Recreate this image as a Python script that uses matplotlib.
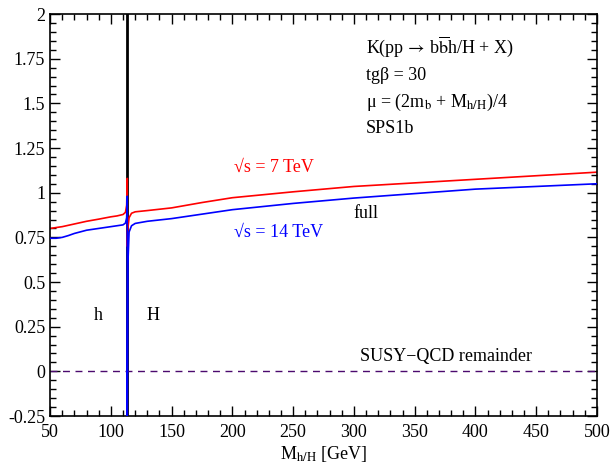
import matplotlib
matplotlib.use("Agg")
import matplotlib.pyplot as plt
from matplotlib.ticker import MultipleLocator

plt.rcParams['font.family'] = ['Liberation Serif', 'DejaVu Serif']
plt.rcParams['mathtext.fontset'] = 'stix'
plt.rcParams['axes.unicode_minus'] = False

# threshold position of the light/heavy Higgs boundary
m_switch = 113.5

# K-factor, sqrt(s) = 7 TeV
m_7 = [50, 60, 70, 80, 90, 100, 105, 110, 112, 113, 113.5,
       113.5, 114, 115, 117, 120, 130, 150, 175, 200, 250, 300, 350, 400, 450, 500]
k_7 = [0.80, 0.81, 0.825, 0.84, 0.852, 0.865, 0.87, 0.878, 0.89, 0.93, 1.08,
       0.70, 0.80, 0.86, 0.885, 0.893, 0.90, 0.915, 0.945, 0.972, 1.005, 1.035, 1.055, 1.075, 1.095, 1.115]

# K-factor, sqrt(s) = 14 TeV
m_14 = [50, 55, 60, 65, 70, 80, 90, 100, 105, 110, 112, 113, 113.5,
        113.5, 114, 115, 117, 120, 130, 150, 175, 200, 250, 300, 350, 400, 450, 500]
k_14 = [0.745, 0.745, 0.75, 0.76, 0.772, 0.79, 0.80, 0.81, 0.815, 0.82, 0.83, 0.86, 0.98,
        -0.25, 0.60, 0.78, 0.815, 0.828, 0.84, 0.855, 0.88, 0.905, 0.94, 0.97, 0.995, 1.02, 1.035, 1.05]

# SUSY-QCD remainder
m_rem = [50, 500]
k_rem = [0.0, 0.0]

ytick_vals = [-0.25, 0, 0.25, 0.5, 0.75, 1, 1.25, 1.5, 1.75, 2]
ytick_labels = ['-0.25', '0', '0.25', '0.5', '0.75', '1', '1.25', '1.5', '1.75', '2']
xtick_vals = [50, 100, 150, 200, 250, 300, 350, 400, 450, 500]

fig = plt.figure(figsize=(6.11, 4.69), dpi=100)
ax = fig.add_axes([0.082, 0.113, 0.895, 0.857])

ax.axvline(m_switch, color='black', lw=2.0, zorder=1)
ax.plot(m_7, k_7, color='red', lw=1.2, zorder=2)
ax.plot(m_14, k_14, color='blue', lw=1.2, zorder=3)
ax.plot(m_rem, k_rem, color='#4b0a6e', lw=1.0, ls=(0, (5, 4)), zorder=2)

ax.set_xlim(50, 500)
ax.set_ylim(-0.25, 2)
ax.set_xticks(xtick_vals)
ax.set_yticks(ytick_vals)
ax.set_yticklabels(ytick_labels)
ax.xaxis.set_minor_locator(MultipleLocator(10))
ax.yaxis.set_minor_locator(MultipleLocator(0.05))
ax.tick_params(which='both', direction='in', top=True, right=True, labelsize=13)
ax.tick_params(which='major', length=7, width=1)
ax.tick_params(which='minor', length=4, width=1)
ax.tick_params(axis='x', pad=6)
for s in ax.spines.values():
    s.set_linewidth(1.2)

ax.set_xlabel(r'M$_{\rm h/H}$ [GeV]', fontsize=13, labelpad=2)

fs = 13
ax.text(310, 1.815, r'K(pp$\,\rightarrow\,$b$\overline{\rm b}$h/H + X)', fontsize=fs, va='center')
ax.text(310, 1.657, 'tgβ = 30', fontsize=fs, va='center')
ax.text(310, 1.506, r'μ = (2m$_{\rm b}$ + M$_{\rm h/H}$)/4', fontsize=fs, va='center')
ax.text(310, 1.36, 'SPS1b', fontsize=fs, va='center')

ax.text(201, 1.14, '√s = 7 TeV', color='red', fontsize=fs, va='center')
ax.text(201, 0.78, '√s = 14 TeV', color='blue', fontsize=fs, va='center')
ax.text(300, 0.882, 'full', fontsize=fs, va='center')
ax.text(89.5, 0.31, 'h', fontsize=fs, va='center', ha='center')
ax.text(135, 0.31, 'H', fontsize=fs, va='center', ha='center')
ax.text(376, 0.085, 'SUSY−QCD remainder', fontsize=fs, va='center', ha='center')

fig.savefig('out.png', dpi=100)
